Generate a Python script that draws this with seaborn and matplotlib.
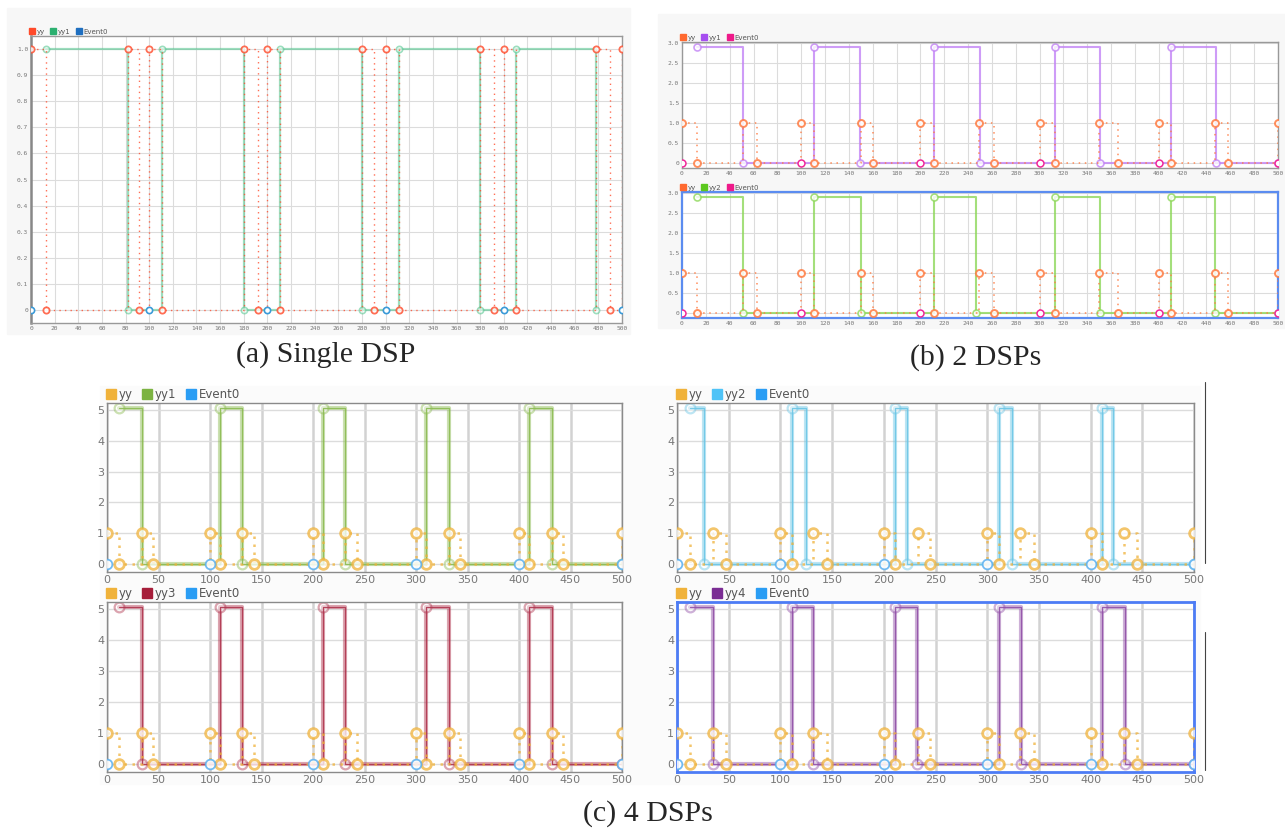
import pandas as pd
import seaborn as sns
import matplotlib.pyplot as plt
from matplotlib.lines import Line2D
from matplotlib.patches import Rectangle

# -------------------------------
# data
# -------------------------------
event_x = [0, 100, 200, 300, 400, 500]
event_y = [0, 0, 0, 0, 0, 0]

# (a) single DSP
a_yy_x = [0, 13, 82, 91, 100, 111, 180, 192, 200, 211, 280, 290, 300, 311, 380, 392, 400, 410, 478, 490, 500]
a_yy_y = [1, 0, 1, 0, 1, 0, 1, 0, 1, 0, 1, 0, 1, 0, 1, 0, 1, 0, 1, 0, 1]
a_yy1_x = [13, 82, 111, 180, 211, 280, 311, 380, 410, 478]
a_yy1_y = [1, 0, 1, 0, 1, 0, 1, 0, 1, 0]

# (b) 2 DSPs
b_yy_x = [0, 13, 51, 63, 100, 111, 150, 160, 200, 211, 249, 262, 300, 313, 350, 366, 400, 410, 447, 458, 500]
b_yy_y = [1, 0, 1, 0, 1, 0, 1, 0, 1, 0, 1, 0, 1, 0, 1, 0, 1, 0, 1, 0, 1]
b_yy1_x = [13, 51, 111, 149, 211, 250, 313, 351, 410, 448, 500]
b_yy1_y = [2.9, 0, 2.9, 0, 2.9, 0, 2.9, 0, 2.9, 0, 0]
b_yy2_x = [13, 51, 111, 150, 211, 247, 313, 351, 410, 447, 500]
b_yy2_y = [2.9, 0, 2.9, 0, 2.9, 0, 2.9, 0, 2.9, 0, 0]

# (c) 4 DSPs
c_left_yy_x = [0, 12, 34, 45, 100, 110, 131, 143, 200, 210, 231, 243, 300, 310, 332, 343, 400, 410, 432, 443, 500]
c_right_yy_x = [0, 13, 35, 47, 100, 111, 132, 145, 200, 211, 233, 245, 300, 311, 332, 345, 400, 411, 432, 445, 500]
c_yy_y = [1, 0, 1, 0, 1, 0, 1, 0, 1, 0, 1, 0, 1, 0, 1, 0, 1, 0, 1, 0, 1]
c_yy1_x = [12, 34, 110, 131, 210, 231, 310, 332, 410, 432, 500]
c_yy2_x = [13, 26, 111, 125, 211, 222, 311, 324, 411, 422, 500]
c_yy3_x = [12, 34, 110, 131, 210, 231, 310, 332, 410, 432, 500]
c_yy4_x = [13, 35, 111, 132, 211, 232, 311, 333, 411, 433, 500]
c_pulse_y = [5.08, 0, 5.08, 0, 5.08, 0, 5.08, 0, 5.08, 0, 0]

# ticks
ab_xticks = list(range(0, 501, 20))
c_xticks = list(range(0, 501, 50))
a_yticks = [0, 0.1, 0.2, 0.3, 0.4, 0.5, 0.6, 0.7, 0.8, 0.9, 1.0]
a_ylabels = ["0", "0.1", "0.2", "0.3", "0.4", "0.5", "0.6", "0.7", "0.8", "0.9", "1.0"]
b_yticks = [0, 0.5, 1.0, 1.5, 2.0, 2.5, 3.0]
b_ylabels = ["0", "0.5", "1.0", "1.5", "2.0", "2.5", "3.0"]
c_yticks = [0, 1, 2, 3, 4, 5]

W, H = 1285, 834
sns.set_style("white")
fig = plt.figure(figsize=(W / 100, H / 100), dpi=100)


def rect(l, t, r, b):
    return [l / W, 1 - b / H, (r - l) / W, (b - t) / H]


def bg(l, t, r, b, c):
    fig.patches.append(Rectangle((l / W, 1 - b / H), (r - l) / W, (b - t) / H,
                                 transform=fig.transFigure, color=c, zorder=-5))


def step(ax, x, y, color, ls, lw, alpha, ms, mew, z, mfc="white"):
    df = pd.DataFrame({"x": x, "y": y})
    sns.lineplot(data=df, x="x", y="y", ax=ax, estimator=None, sort=False,
                 drawstyle="steps-post", color=color, linestyle=ls, linewidth=lw,
                 alpha=alpha, marker="o", markersize=ms, markerfacecolor=mfc,
                 markeredgecolor=color, markeredgewidth=mew, zorder=z, legend=False)


def dots(ax, x, y, color, ms, mew, z, alpha=1.0):
    df = pd.DataFrame({"x": x, "y": y})
    sns.lineplot(data=df, x="x", y="y", ax=ax, estimator=None, sort=False,
                 linestyle="none", marker="o", markersize=ms, markerfacecolor="white",
                 markeredgecolor=color, markeredgewidth=mew, alpha=alpha, zorder=z,
                 legend=False)


def style_ax(ax, xt, yt, yl, ylim, fs, fam, grid_lw, spine_c="#999999", spine_lw=1.0):
    ax.set_xlim(0, 500)
    ax.set_ylim(*ylim)
    ax.set_xticks(xt)
    ax.set_xticklabels([str(v) for v in xt], fontsize=fs, color="#777777", family=fam)
    ax.set_yticks(yt)
    ax.set_yticklabels(yl, fontsize=fs, color="#777777", family=fam)
    ax.tick_params(length=0, pad=2)
    ax.grid(True, color="#dcdcdc", lw=grid_lw)
    ax.set_xlabel("")
    ax.set_ylabel("")
    for s in ax.spines.values():
        s.set_color(spine_c)
        s.set_linewidth(spine_lw)


def legend(ax, labels, colors, fs, ms):
    hs = [Line2D([], [], marker="s", ls="none", color=c, markersize=ms) for c in colors]
    lg = ax.legend(hs, labels, loc="lower left", bbox_to_anchor=(-0.005, 1.0), ncol=3,
                   frameon=False, fontsize=fs, handlelength=0.7, handletextpad=0.3,
                   columnspacing=0.9, borderaxespad=0.2, borderpad=0)
    for t in lg.get_texts():
        t.set_color("#555555")


# screenshot backgrounds
bg(7, 8, 630, 334, "#f7f7f7")
bg(658, 14, 1285, 328, "#f7f7f7")
bg(100, 386, 1200, 784, "#fbfbfb")

mono = "DejaVu Sans Mono"

# -------------------------------
# (a) Single DSP
# -------------------------------
red, grn = "#ff4a2a", "#4cc48a"
ax = fig.add_axes(rect(31, 36, 622, 323))
step(ax, a_yy_x, a_yy_y, red, (0, (1, 3)), 1.0, 0.8, 4.5, 1.3, 3)
step(ax, a_yy1_x, a_yy1_y, grn, "-", 1.6, 0.55, 4.5, 1.2, 2)
dots(ax, event_x, event_y, "#3a9ad8", 4.5, 1.2, 4)
style_ax(ax, ab_xticks, a_yticks, a_ylabels, (-0.05, 1.05), 4.5, mono, 0.8)
ax.spines["left"].set_color("#888888")
ax.spines["left"].set_linewidth(1.8)
legend(ax, ["yy", "yy1", "Event0"], [red, "#2cb070", "#1f6fc0"], 5, 4)

# -------------------------------
# (b) 2 DSPs
# -------------------------------
org, pur, lim, mag = "#ff7a40", "#c283f5", "#8ed85a", "#f0289a"
for i, (top, bot, xs, ys, c, lc, lab) in enumerate([
        (42, 168, b_yy1_x, b_yy1_y, pur, "#a64ef0", "yy1"),
        (192, 318, b_yy2_x, b_yy2_y, lim, "#5cc81e", "yy2")]):
    ax = fig.add_axes(rect(682, top, 1278, bot))
    step(ax, b_yy_x, b_yy_y, org, (0, (1, 3)), 1.1, 0.85, 5, 1.4, 3)
    step(ax, xs, ys, c, "-", 1.5, 0.8, 5, 1.2, 2)
    dots(ax, event_x, event_y, mag, 5, 1.1, 4)
    style_ax(ax, ab_xticks, b_yticks, b_ylabels, (-0.12, 3.03), 4.5, mono, 0.8)
    legend(ax, ["yy", lab, "Event0"], ["#ff6a30", lc, "#ee1a8a"], 5, 4)
    if i == 1:
        for s in ax.spines.values():
            s.set_color("#5b8cf0")
            s.set_linewidth(1.6)

# -------------------------------
# (c) 4 DSPs
# -------------------------------
gold, ev = "#f0b23a", "#2a9df4"
panels = [
    (107, 403, 622, 572, c_left_yy_x, c_yy1_x, "#8cbc52", "#7cb342", "yy1", False),
    (677, 403, 1194, 572, c_right_yy_x, c_yy2_x, "#6cc6e6", "#4fc3f7", "yy2", False),
    (107, 602, 622, 772, c_left_yy_x, c_yy3_x, "#b0354f", "#a61e3a", "yy3", False),
    (677, 602, 1194, 772, c_right_yy_x, c_yy4_x, "#9250a8", "#7b2d94", "yy4", True),
]
for l, t, r, b, yx, px, c, lc, lab, sel in panels:
    ax = fig.add_axes(rect(l, t, r, b))
    step(ax, yx, c_yy_y, gold, (0, (1, 2.2)), 1.8, 0.75, 7, 2.0, 3)
    step(ax, px, c_pulse_y, c, "-", 3.0, 0.45, 7, 1.6, 2)
    step(ax, px, c_pulse_y, c, "-", 0.9, 0.9, 0, 0, 2)
    dots(ax, event_x, event_y, "#5ab0f0", 7, 1.3, 4, 0.85)
    style_ax(ax, c_xticks, c_yticks, [str(v) for v in c_yticks], (-0.26, 5.23), 8,
             "DejaVu Sans", 1.0, "#8a8a8a", 1.0)
    ax.grid(True, axis="x", color="#d2d2d2", lw=1.8)
    legend(ax, ["yy", lab, "Event0"], [gold, lc, ev], 8.5, 7)
    if sel:
        for s in ax.spines.values():
            s.set_color("#4d7cf5")
            s.set_linewidth(2.0)

fig.add_artist(Line2D([1205 / W] * 2, [1 - 382 / H, 1 - 563 / H], color="#444444", lw=0.8))
fig.add_artist(Line2D([1205 / W] * 2, [1 - 632 / H, 1 - 770 / H], color="#444444", lw=0.8))

# captions
cap = dict(fontsize=21.5, family="Liberation Serif", ha="center", va="center")
fig.text(326 / W, 1 - 355 / H, "(a) Single DSP", **cap)
fig.text(976 / W, 1 - 358 / H, "(b) 2 DSPs", **cap)
fig.text(648 / W, 1 - 814 / H, "(c) 4 DSPs", **cap)

fig.savefig("out.png", dpi=100)
